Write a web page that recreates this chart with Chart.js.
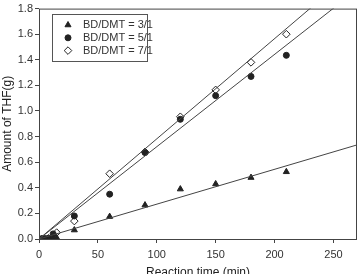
<!DOCTYPE html>
<html><head><meta charset="utf-8">
<script src="https://cdn.jsdelivr.net/npm/chart.js@4/dist/chart.umd.min.js"></script>
<style>html,body{margin:0;padding:0;background:#fff}#w{width:362px;height:274px}</style>
</head><body><div id="w"><canvas id="c" width="362" height="274"></canvas></div>
<script>
const xTicks = [0, 50, 100, 150, 200, 250];
const yTicks = [0, 0.2, 0.4, 0.6, 0.8, 1.0, 1.2, 1.4, 1.6, 1.8];
const legendLabels = ['BD/DMT = 3/1', 'BD/DMT = 5/1', 'BD/DMT = 7/1'];

const t31 = [3, 6, 9, 12, 15, 30, 60, 90, 120, 150, 180, 210];
const v31 = [0, 0, 0, 0.005, 0.01, 0.07, 0.175, 0.265, 0.39, 0.43, 0.48, 0.525];
const t51 = [2, 5, 8, 12, 30, 60, 90, 120, 150, 180, 210];
const v51 = [0, 0, 0.005, 0.04, 0.18, 0.35, 0.675, 0.935, 1.12, 1.27, 1.435];
const t71 = [2, 5, 8, 12, 15, 30, 60, 90, 120, 150, 180, 210];
const v71 = [0, 0, 0.005, 0.02, 0.05, 0.14, 0.51, 0.68, 0.955, 1.165, 1.38, 1.6];

const fitX31 = [0, 270], fitY31 = [0, 0.735];
const fitX51 = [0, 270], fitY51 = [0, 1.947];
const fitX71 = [0, 270], fitY71 = [0, 2.113];

const pts = (xs, ys) => xs.map((x, i) => ({x, y: ys[i]}));
const ink = '#222';

const boxPlugin = {
  id: 'box',
  afterDatasetsDraw(chart) {
    const {ctx, chartArea: a} = chart;
    ctx.save();
    ctx.strokeStyle = '#444'; ctx.lineWidth = 1;
    ctx.strokeRect(a.left + 0.5, a.top + 0.5, a.right - a.left - 1, a.bottom - a.top);
    // legend
    const lx = 52, ly = 14, lw = 95, lh = 47;
    ctx.fillStyle = '#fff';
    ctx.fillRect(lx, ly, lw, lh);
    ctx.strokeStyle = '#555';
    ctx.strokeRect(lx + 0.5, ly + 0.5, lw, lh);
    ctx.font = '11px "Liberation Sans", Arial, sans-serif';
    ctx.textBaseline = 'middle';
    const styles = ['triangle', 'circle', 'rectRot'];
    const fills = [ink, ink, '#fff'];
    const rads = [3.5, 3, 3.8];
    for (let i = 0; i < 3; i++) {
      const y = ly + 11 + i * 12.8;
      ctx.fillStyle = fills[i]; ctx.strokeStyle = ink; ctx.lineWidth = 1;
      Chart.helpers.drawPoint(ctx, {pointStyle: styles[i], radius: rads[i], borderWidth: 1}, 68, y);
      ctx.fillStyle = '#333';
      ctx.fillText(legendLabels[i], 83, y);
    }
    ctx.restore();
  }
};

new Chart(document.getElementById('c'), {
  type: 'scatter',
  data: {
    datasets: [
      {type: 'line', data: pts(fitX31, fitY31), borderColor: '#444', borderWidth: 1, pointRadius: 0, fill: false},
      {type: 'line', data: pts(fitX51, fitY51), borderColor: '#444', borderWidth: 1, pointRadius: 0, fill: false},
      {type: 'line', data: pts(fitX71, fitY71), borderColor: '#444', borderWidth: 1, pointRadius: 0, fill: false},
      {data: pts(t31, v31), pointStyle: 'triangle', pointRadius: 3.5, backgroundColor: ink, borderColor: ink, borderWidth: 1},
      {data: pts(t51, v51), pointStyle: 'circle', pointRadius: 3, backgroundColor: ink, borderColor: ink, borderWidth: 1},
      {data: pts(t71, v71), pointStyle: 'rectRot', pointRadius: 3.8, backgroundColor: '#fff', borderColor: ink, borderWidth: 1}
    ]
  },
  options: {
    responsive: false, animation: false,
    layout: {padding: {top: 4, right: 1, left: 0, bottom: 0}},
    plugins: {legend: {display: false}, tooltip: {enabled: false}},
    scales: {
      x: {
        type: 'linear', min: 0, max: 270,
        afterBuildTicks: s => { s.ticks = xTicks.map(v => ({value: v})); },
        afterFit: s => { s.height = 35; },
        grid: {display: true, drawOnChartArea: false, drawTicks: true, tickLength: 4, color: '#444'},
        border: {display: false},
        ticks: {color: '#333', font: {size: 11, family: '"Liberation Sans", Arial, sans-serif'}, padding: 5, maxRotation: 0},
        title: {display: true, text: 'Reaction time (min)', color: '#222', font: {size: 12, family: '"Liberation Sans", Arial, sans-serif'}, padding: {top: 5, bottom: -6}}
      },
      y: {
        min: 0, max: 1.8,
        afterBuildTicks: s => { s.ticks = yTicks.map(v => ({value: v})); },
        afterFit: s => { s.width = 39; },
        grid: {display: true, drawOnChartArea: false, drawTicks: true, tickLength: 4, color: '#444'},
        border: {display: false},
        ticks: {color: '#333', font: {size: 11, family: '"Liberation Sans", Arial, sans-serif'}, padding: 2, callback: v => v.toFixed(1)},
        title: {display: true, text: 'Amount of THF(g)', color: '#222', font: {size: 12, family: '"Liberation Sans", Arial, sans-serif'}, padding: {top: 0, bottom: 2}}
      }
    }
  },
  plugins: [boxPlugin]
});
</script></body></html>
